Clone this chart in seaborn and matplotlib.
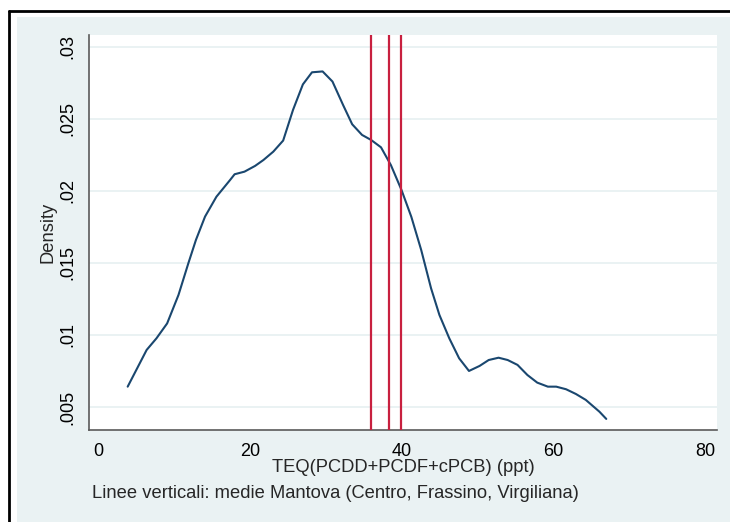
import pandas as pd
import seaborn as sns
import matplotlib.pyplot as plt
from matplotlib.patches import Rectangle
from matplotlib.lines import Line2D

# kernel density estimate
teq = [3.9, 6.4, 7.7, 9.1, 10.6, 11.9, 12.9, 14.1, 15.6, 17.4, 18.0, 19.3, 20.7,
       21.8, 23.1, 24.4, 25.7, 27.0, 28.2, 29.6, 30.9, 32.3, 33.5, 34.8, 36.0,
       37.3, 38.6, 40.0, 41.3, 42.6, 43.9, 45.0, 46.3, 47.6, 48.9, 50.3, 51.5,
       52.8, 54.0, 55.3, 56.6, 57.9, 59.3, 60.4, 61.7, 63.0, 64.3, 66.1, 67.0]
density = [0.00641, 0.00896, 0.00977, 0.0108, 0.01278, 0.01498, 0.0166, 0.01822,
           0.0196, 0.02076, 0.02116, 0.02134, 0.02174, 0.02215, 0.02273, 0.0235,
           0.02563, 0.0274, 0.02824, 0.0283, 0.0276, 0.02597, 0.02463, 0.02389,
           0.02354, 0.02303, 0.0218, 0.02007, 0.0182, 0.0159, 0.01324, 0.01139,
           0.00977, 0.00838, 0.0075, 0.00785, 0.00826, 0.00842, 0.00826, 0.00792,
           0.00722, 0.00669, 0.00641, 0.00641, 0.00623, 0.0059, 0.00549, 0.00467,
           0.00417]

# Mantova means (Centro, Frassino, Virgiliana)
medie = [36.0, 38.4, 40.0]

xticks = [0, 20, 40, 60, 80]
yticks = [0.005, 0.01, 0.015, 0.02, 0.025, 0.03]
ytick_labels = [".005", ".01", ".015", ".02", ".025", ".03"]

W, H = 730, 522
bg = "#EAF2F3"
navy = "#1A476F"
red = "#C8203F"
axgrey = "#5A5A5A"

sns.set_style("white")
plt.rcParams["font.family"] = ["Liberation Sans", "DejaVu Sans"]

fig = plt.figure(figsize=(W / 100, H / 100), dpi=100, facecolor="white")

# graph region (cropped screenshot: black frame on top/left only)
fig.add_artist(Rectangle((17 / W, 0), 1, (H - 17) / H, transform=fig.transFigure,
                         facecolor=bg, edgecolor="none", zorder=0))
fig.add_artist(Line2D([9 / W, 1], [(H - 11) / H] * 2, transform=fig.transFigure,
                      color="black", lw=2))
fig.add_artist(Line2D([9 / W, 9 / W], [0, (H - 11) / H], transform=fig.transFigure,
                      color="black", lw=2))

ax = fig.add_axes([89 / W, (H - 430) / H, (717 - 89) / W, (430 - 35) / H])
ax.set_facecolor("white")

df = pd.DataFrame({"teq": teq, "density": density})
sns.lineplot(data=df, x="teq", y="density", color=navy, lw=1.5, ax=ax, zorder=3)
for m in medie:
    ax.axvline(m, color=red, lw=1.6, zorder=4)

ax.set_xlim(-1.2, 81.6)
ax.set_ylim(0.0034, 0.03083)
ax.set_xticks(xticks)
ax.set_xticklabels([str(t) for t in xticks])
ax.set_yticks(yticks)
ax.set_yticklabels(ytick_labels, rotation=90, va="center")
ax.grid(axis="y", color=bg, lw=1.4, zorder=0)
ax.set_axisbelow(True)

for side in ["top", "right"]:
    ax.spines[side].set_visible(False)
for side in ["left", "bottom"]:
    ax.spines[side].set_color(axgrey)
    ax.spines[side].set_linewidth(1.2)
ax.tick_params(axis="both", direction="out", length=6, width=1.2, color=axgrey,
               labelsize=13, labelcolor="black", pad=3)

ax.set_xlabel("TEQ(PCDD+PCDF+cPCB) (ppt)", fontsize=13.2, labelpad=0)
ax.set_ylabel("Density", fontsize=13.2, labelpad=2)

fig.text(92 / W, 1 - 493 / H, "Linee verticali: medie Mantova (Centro, Frassino, Virgiliana)",
         fontsize=13.2, ha="left", va="center")

plt.savefig("out.png", dpi=100)
